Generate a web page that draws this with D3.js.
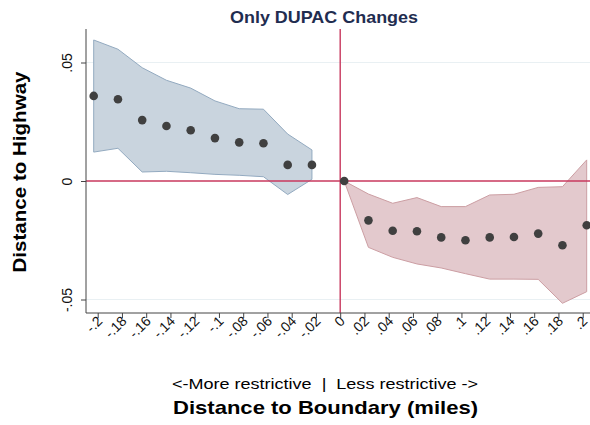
<!DOCTYPE html>
<html>
<head>
<meta charset="utf-8">
<script src="https://cdn.jsdelivr.net/npm/d3@7"></script>
<style>
  html, body { margin: 0; padding: 0; background: #fff; }
  svg { display: block; }
  text { font-family: "Liberation Sans", Arial, sans-serif; }
</style>
</head>
<body>
<svg id="chart" width="590" height="425"></svg>
<script>
// ---- data ----
const xTicks = [-0.2,-0.18,-0.16,-0.14,-0.12,-0.1,-0.08,-0.06,-0.04,-0.02,0,0.02,0.04,0.06,0.08,0.1,0.12,0.14,0.16,0.18,0.2];
const yTicks = [-0.05, 0, 0.05];

const leftX   = [-0.2033,-0.1833,-0.1633,-0.1433,-0.1233,-0.1033,-0.0833,-0.0633,-0.0433,-0.0233];
const leftEst = [0.0359,0.0345,0.0257,0.0232,0.0214,0.0181,0.0163,0.0159,0.0068,0.0068];
const leftHi  = [0.0595,0.0556,0.0478,0.0425,0.0392,0.0338,0.0305,0.0303,0.0198,0.0131];
const leftLo  = [0.0122,0.0138,0.0038,0.0041,0.0035,0.0028,0.0024,0.0018,-0.0057,0.0007];

const rightX   = [0.0033,0.0233,0.0433,0.0633,0.0833,0.1033,0.1233,0.1433,0.1633,0.1833,0.2033];
const rightEst = [0.0,-0.0166,-0.0210,-0.0212,-0.0238,-0.0250,-0.0238,-0.0236,-0.0222,-0.0271,-0.0187];
const rightHi  = [0.0,-0.0055,-0.0094,-0.0070,-0.0108,-0.0108,-0.0059,-0.0056,-0.0027,-0.0024,0.0089];
const rightLo  = [0.0,-0.0280,-0.0322,-0.0350,-0.0367,-0.0391,-0.0414,-0.0414,-0.0415,-0.0516,-0.0467];

const titleText = "Only DUPAC Changes";
const yTitle = "Distance to Highway";
const xNote = "<-More restrictive  |  Less restrictive ->";
const xTitle = "Distance to Boundary (miles)";

// ---- layout ----
const svg = d3.select("#chart");
const plotL = 86, plotR = 590, plotT = 29, plotB = 313;

const x = d3.scaleLinear().domain([-0.2, 0.2]).range([97.7, 582.7]);
const y = d3.scaleLinear().domain([-0.05, 0.05]).range([299.5, 62.5]);

const fmt = v => {
  if (Math.abs(v) < 1e-9) return "0";
  return String(+v.toFixed(2)).replace(/^(-?)0\./, "$1.");
};

// gridlines
svg.append("g").selectAll("line").data(yTicks.filter(d => d !== 0)).join("line")
  .attr("x1", plotL).attr("x2", plotR)
  .attr("y1", d => y(d)).attr("y2", d => y(d))
  .attr("stroke", "#e9f0f3").attr("stroke-width", 1);

// bands
const left = leftX.map((v, i) => ({x: v, est: leftEst[i], hi: leftHi[i], lo: leftLo[i]}));
const right = rightX.map((v, i) => ({x: v, est: rightEst[i], hi: rightHi[i], lo: rightLo[i]}));
const area = d3.area().x(d => x(d.x)).y0(d => y(d.lo)).y1(d => y(d.hi));

svg.append("path").datum(left).attr("d", area)
  .attr("fill", "#c9d4de").attr("stroke", "#93aac0").attr("stroke-width", 1);
svg.append("path").datum(right).attr("d", area)
  .attr("fill", "#e3c9cd").attr("stroke", "#cc9ea3").attr("stroke-width", 1);

// reference lines
svg.append("line").attr("x1", plotL).attr("x2", plotR).attr("y1", y(0)).attr("y2", y(0))
  .attr("stroke", "#c8385e").attr("stroke-width", 1.4);
svg.append("line").attr("x1", x(0)).attr("x2", x(0)).attr("y1", plotT).attr("y2", plotB)
  .attr("stroke", "#c8385e").attr("stroke-width", 1.4);

// dots
svg.append("g").selectAll("circle").data(left.concat(right)).join("circle")
  .attr("cx", d => x(d.x)).attr("cy", d => y(d.est)).attr("r", 4.3)
  .attr("fill", "#404040");

// y axis
const yAxis = svg.append("g").attr("transform", `translate(${plotL},0)`)
  .call(d3.axisLeft(y).tickValues(yTicks).tickSize(5).tickFormat(fmt));
yAxis.select(".domain").attr("d", `M0,${plotT}V${plotB}`).attr("stroke", "#444");
yAxis.selectAll(".tick line").attr("stroke", "#444");
yAxis.selectAll(".tick text")
  .attr("font-size", 14).attr("fill", "#111")
  .attr("text-anchor", "middle")
  .attr("x", null).attr("dy", null)
  .attr("transform", "translate(-14,0) rotate(-90)");

// x axis
const xAxis = svg.append("g").attr("transform", `translate(0,${plotB})`)
  .call(d3.axisBottom(x).tickValues(xTicks).tickSize(5).tickFormat(fmt));
xAxis.select(".domain").attr("d", `M${plotL},0H${plotR}`).attr("stroke", "#444");
xAxis.selectAll(".tick line").attr("stroke", "#444");
xAxis.selectAll(".tick text")
  .attr("font-size", 14).attr("fill", "#111")
  .attr("text-anchor", "end")
  .attr("y", null).attr("dy", null)
  .attr("transform", "translate(5,9) rotate(-45)");

// titles
svg.append("text").attr("x", 230).attr("y", 23)
  .attr("font-size", 17).attr("font-weight", "bold").attr("fill", "#1f2d50")
  .attr("textLength", 188).attr("lengthAdjust", "spacingAndGlyphs")
  .text(titleText);

svg.append("text").attr("transform", "translate(26,172) rotate(-90)")
  .attr("text-anchor", "middle")
  .attr("font-size", 19).attr("font-weight", "bold").attr("fill", "#000")
  .attr("textLength", 201).attr("lengthAdjust", "spacingAndGlyphs")
  .text(yTitle);

svg.append("text").attr("x", 172).attr("y", 389)
  .attr("font-size", 15).attr("fill", "#000")
  .attr("xml:space", "preserve").style("white-space", "pre")
  .attr("textLength", 306).attr("lengthAdjust", "spacingAndGlyphs")
  .text(xNote);

svg.append("text").attr("x", 173).attr("y", 414)
  .attr("font-size", 19).attr("font-weight", "bold").attr("fill", "#000")
  .attr("textLength", 305).attr("lengthAdjust", "spacingAndGlyphs")
  .text(xTitle);
</script>
</body>
</html>
